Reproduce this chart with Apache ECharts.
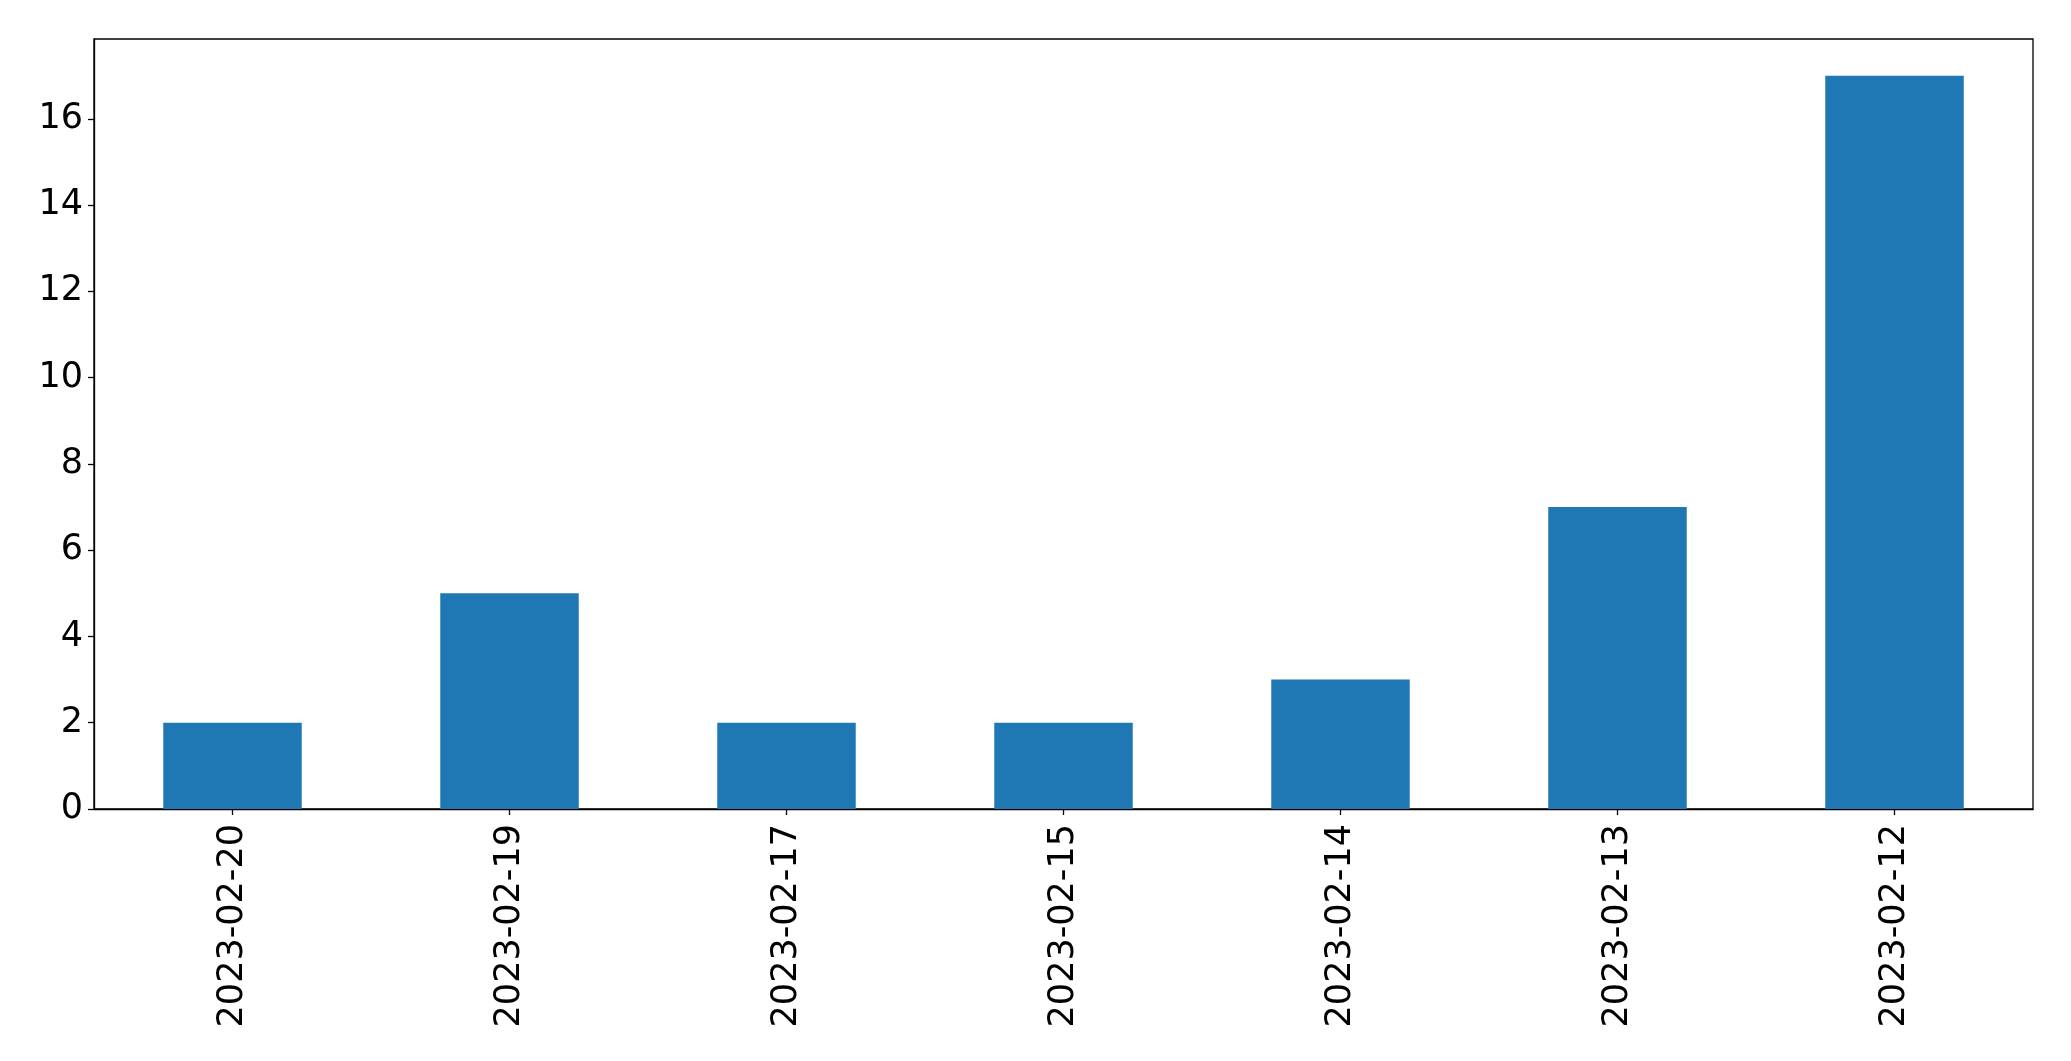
<!DOCTYPE html>
<html>
<head>
<meta charset="utf-8">
<script src="https://cdn.jsdelivr.net/npm/echarts@6/dist/echarts.min.js"></script>
<style>
html,body{margin:0;padding:0;background:#fff;}
#chart{width:2071px;height:1061px;}
</style>
</head>
<body>
<div id="chart"></div>
<script>
const categories = ["2023-02-20","2023-02-19","2023-02-17","2023-02-15","2023-02-14","2023-02-13","2023-02-12"];
const counts = [2,5,2,2,3,7,17];
const yMax = 17.85;

const chart = echarts.init(document.getElementById('chart'), null, {renderer:'canvas'});
chart.setOption({
  animation:false,
  backgroundColor:'#ffffff',
  grid:{left:94, top:39, right:38, bottom:252, show:true, borderColor:'#000', borderWidth:1.3, backgroundColor:'transparent'},
  xAxis:{
    type:'category',
    data:categories,
    axisLine:{show:true, lineStyle:{color:'#000', width:1.3}},
    axisTick:{show:true, alignWithLabel:true, length:6, lineStyle:{color:'#000', width:1.3}},
    axisLabel:{rotate:90, margin:15, fontSize:35, color:'#000', fontFamily:'DejaVu Sans', interval:0},
    splitLine:{show:false}
  },
  yAxis:{
    type:'value',
    min:0, max:yMax, interval:2,
    axisLine:{show:true, lineStyle:{color:'#000', width:1.3}},
    axisTick:{show:true, length:6, lineStyle:{color:'#000', width:1.3}},
    axisLabel:{margin:11, fontSize:35, color:'#000', fontFamily:'DejaVu Sans', showMaxLabel:false},
    splitLine:{show:false}
  },
  series:[{
    type:'bar',
    data:counts,
    barWidth:'50%',
    itemStyle:{color:'#1f77b4'}
  }]
});
</script>
</body>
</html>
